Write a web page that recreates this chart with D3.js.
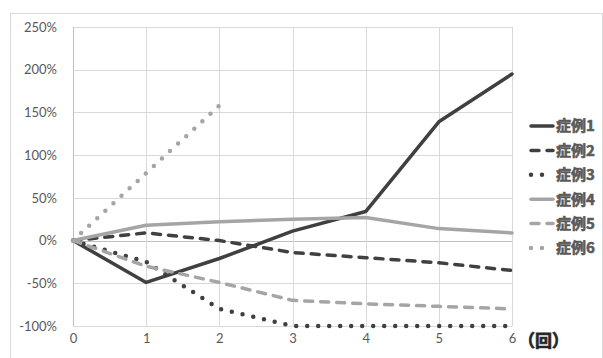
<!DOCTYPE html>
<html>
<head>
<meta charset="utf-8">
<script src="https://cdn.jsdelivr.net/npm/d3@7/dist/d3.min.js"></script>
<style>
  html, body { margin: 0; padding: 0; background: #fff; }
  svg { display: block; }
  .tick-label { font-family: Lato, "Open Sans", sans-serif; font-size: 13px; fill: #595959; }
  .legend-label { font-family: "Noto Sans CJK JP", sans-serif; font-weight: 700; font-size: 15px; fill: #595959; stroke: #595959; stroke-width: 0.6px; }
</style>
</head>
<body>
<svg id="chart" width="603" height="358"></svg>
<script>
// Visit number (x axis)
const visits = [0, 1, 2, 3, 4, 5, 6];

// Change from baseline, percent, one array per case
const case1 = [0, -49, -21, 11, 34, 139, 195];
const case2 = [0, 9, 0, -14, -20, -26, -35];
const case3 = [0, -25, -80, -100, -100, -100, -100];
const case4 = [0, 18, 22, 25, 27, 14, 9];
const case5 = [0, -30, -49, -70, -74, -77, -80];
const case6 = [0, 79, 158, null, null, null, null];

const caseNames = ["症例1", "症例2", "症例3", "症例4", "症例5", "症例6"];
const yTicks = [-100, -50, 0, 50, 100, 150, 200, 250];
const xUnitLabel = "（回）";

const dark = "#404040", light = "#a5a5a5";
const styles = [
  { color: dark,  dash: null,   width: 3.5 },
  { color: dark,  dash: "8 8",  width: 3.5 },
  { color: dark,  dash: "0 11", width: 4.5 },
  { color: light, dash: null,   width: 3.5 },
  { color: light, dash: "8 8",  width: 3.5 },
  { color: light, dash: "0 11", width: 4.5 }
];
const seriesValues = [case1, case2, case3, case4, case5, case6];
const series = caseNames.map((name, i) => ({ name, values: seriesValues[i], ...styles[i] }));

const svg = d3.select("#chart");

// Chart area frame
svg.append("rect")
  .attr("x", 10.5).attr("y", 13.5)
  .attr("width", 592).attr("height", 360)
  .attr("fill", "none").attr("stroke", "#d9d9d9").attr("stroke-width", 1);

const plot = { left: 73, right: 512, top: 27, bottom: 326 };

const x = d3.scaleLinear().domain([0, 6]).range([plot.left, plot.right]);
const y = d3.scaleLinear().domain([-100, 250]).range([plot.bottom, plot.top]);

// Gridlines
const grid = svg.append("g");
grid.selectAll("line.h").data(yTicks).join("line")
  .attr("x1", plot.left).attr("x2", plot.right)
  .attr("y1", d => Math.round(y(d)) + 0.5).attr("y2", d => Math.round(y(d)) + 0.5)
  .attr("stroke", d => d === 0 ? "#bfbfbf" : "#d9d9d9").attr("stroke-width", 1);
grid.selectAll("line.v").data(visits.slice(1)).join("line")
  .attr("x1", d => Math.round(x(d)) + 0.5).attr("x2", d => Math.round(x(d)) + 0.5)
  .attr("y1", plot.top).attr("y2", plot.bottom)
  .attr("stroke", "#d9d9d9").attr("stroke-width", 1);

// Vertical axis line
svg.append("line")
  .attr("x1", plot.left + 0.5).attr("x2", plot.left + 0.5)
  .attr("y1", plot.top).attr("y2", plot.bottom)
  .attr("stroke", "#bfbfbf").attr("stroke-width", 1);

// Y axis labels
const yAxis = d3.axisLeft(y).tickValues(yTicks).tickFormat(d => d + "%").tickSize(0).tickPadding(16);
const gy = svg.append("g").attr("transform", `translate(${plot.left},0)`).call(yAxis);
gy.select(".domain").remove();
gy.selectAll("text").attr("class", "tick-label").attr("font-family", null).attr("font-size", null).attr("fill", null);

// X axis labels (bottom)
const xAxis = d3.axisBottom(x).tickValues(visits).tickFormat(d3.format("d")).tickSize(0).tickPadding(8);
const gx = svg.append("g").attr("transform", `translate(0,${plot.bottom})`).call(xAxis);
gx.select(".domain").remove();
gx.selectAll("text").attr("class", "tick-label").attr("font-family", null).attr("font-size", null).attr("fill", null);

// Unit label for the x axis
svg.append("text")
  .attr("x", 518).attr("y", 347)
  .attr("font-family", "'Noto Sans CJK JP', sans-serif")
  .attr("font-weight", 700).attr("font-size", 17)
  .attr("fill", "#262626").attr("stroke", "#262626").attr("stroke-width", 0.7)
  .text(xUnitLabel);

// Series lines
const line = d3.line()
  .defined(d => d[1] !== null)
  .x(d => x(d[0])).y(d => y(d[1]));

svg.append("g").selectAll("path").data(series).join("path")
  .attr("d", s => line(visits.map((v, i) => [v, s.values[i]])))
  .attr("fill", "none")
  .attr("stroke", s => s.color)
  .attr("stroke-width", s => s.width)
  .attr("stroke-linecap", "round")
  .attr("stroke-linejoin", "round")
  .attr("stroke-dasharray", s => s.dash);

// Legend
const ly = d3.scalePoint().domain(caseNames).range([126, 248]);
const legend = svg.append("g").selectAll("g").data(series).join("g")
  .attr("transform", s => `translate(0,${ly(s.name)})`);
legend.append("line")
  .attr("x1", 531).attr("x2", 553).attr("y1", 0).attr("y2", 0)
  .attr("stroke", s => s.color).attr("stroke-width", s => s.width)
  .attr("stroke-linecap", "round")
  .attr("stroke-dasharray", s => s.dash);
legend.append("text")
  .attr("class", "legend-label")
  .attr("x", 556).attr("y", 0).attr("dy", "0.36em")
  .text(s => s.name);
</script>
</body>
</html>
